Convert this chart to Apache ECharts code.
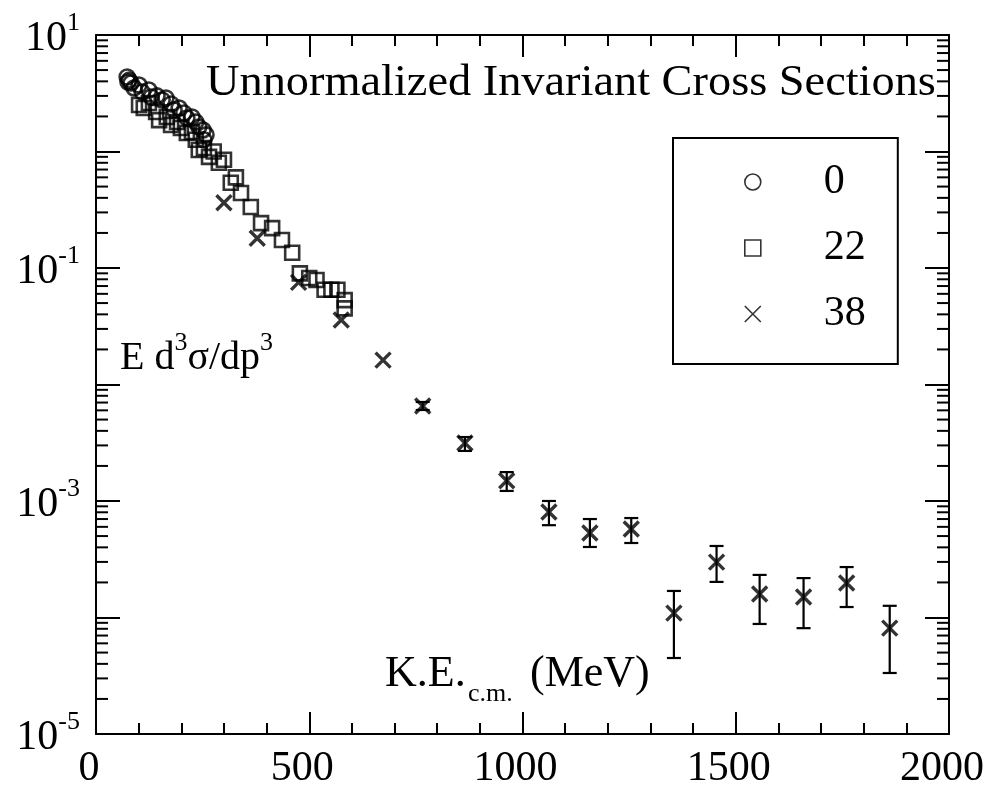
<!DOCTYPE html>
<html><head><meta charset="utf-8">
<script src="https://cdn.jsdelivr.net/npm/echarts@6/dist/echarts.min.js"></script>
<style>html,body{margin:0;padding:0;background:#fff}#c{width:990px;height:794px}</style>
</head><body><div id="c"></div>
<script>
// ---- data (K.E. c.m. in MeV, invariant cross section, arbitrary units) ----
const ke0  = [73, 75, 78, 82, 89, 101, 108, 124, 129, 143, 155, 164, 176, 183, 195, 206, 213, 225, 234, 241, 251, 258, 253];
const sig0 = [4.36, 3.95, 4.1, 3.87, 3.51, 3.72, 3.24, 3.37, 2.94, 3.0, 2.77, 2.88, 2.56, 2.27, 2.36, 2.14, 1.94, 1.98, 1.79, 1.62, 1.53, 1.39, 1.26];

const ke22  = [101, 112, 124, 141, 148, 166, 176, 190, 199, 213, 225, 234, 241, 253, 265, 276, 288, 300, 316, 328, 340, 363, 387, 413, 436, 460, 478, 500, 517, 536, 552, 566, 583, 583];
const sig22 = [2.51, 2.36, 2.61, 2.18, 1.86, 1.98, 1.69, 1.79, 1.59, 1.44, 1.47, 1.26, 1.03, 1.07, 0.90, 1.0, 0.80, 0.85, 0.54, 0.60, 0.44, 0.334, 0.243, 0.22, 0.174, 0.135, 0.090, 0.082, 0.079, 0.065, 0.065, 0.065, 0.053, 0.045];

const ke38  = [300, 378, 475, 575, 673, 766, 865, 963, 1062, 1158, 1255, 1355, 1455, 1556, 1659, 1760, 1861];
const sig38 = [0.363, 0.18, 0.0752, 0.0358, 0.0162, 0.00653, 0.00315, 0.00149, 8.05e-4, 5.31e-4, 5.75e-4, 1.09e-4, 2.99e-4, 1.59e-4, 1.50e-4, 1.98e-4, 8.1e-5];
const lo38  = [0.363, 0.18, 0.0752, 0.0358, 0.0162, 0.00604, 0.00269, 0.00122, 6.2e-4, 4.03e-4, 4.36e-4, 4.49e-5, 2.02e-4, 8.8e-5, 8.1e-5, 1.23e-4, 3.34e-5];
const hi38  = [0.363, 0.18, 0.0752, 0.0358, 0.0162, 0.00708, 0.00354, 0.00177, 1.0e-3, 7.0e-4, 7.14e-4, 1.69e-4, 4.11e-4, 2.32e-4, 2.18e-4, 2.71e-4, 1.26e-4];

const seriesNames = ['0', '22', '38'];
const xTickLabels = ['0', '500', '1000', '1500', '2000'];
const yLabelExps = [1, -1, -3, -5];

const X_MIN = 0, X_MAX = 2000, Y_MIN = 1e-5, Y_MAX = 10;
const yMinor = [];
for (let k = -5; k <= 0; k++) for (let m = 2; m <= 9; m++) yMinor.push(m * Math.pow(10, k));

const FONT = 'Liberation Serif';
const chart = echarts.init(document.getElementById('c'), null, {renderer: 'canvas'});
const zip = (a, b) => a.map((v, i) => [v, b[i]]);
const crossPath = 'path://M0,0L10,10M10,0L0,10';

const xAxisBase = {
  type: 'value', min: X_MIN, max: X_MAX, interval: 500,
  axisLine: {show: true, onZero: false, lineStyle: {color: '#000', width: 2}},
  axisTick: {show: true, inside: true, length: 22, lineStyle: {color: '#000', width: 2}},
  minorTick: {show: true, splitNumber: 5, length: 11, lineStyle: {color: '#000', width: 2}},
  splitLine: {show: false}
};
const yAxisBase = {
  type: 'log', logBase: 10, min: Y_MIN, max: Y_MAX, interval: 1,
  axisLine: {show: true, onZero: false, lineStyle: {color: '#000', width: 2}},
  axisTick: {show: true, inside: true, length: 24, lineStyle: {color: '#000', width: 2}},
  splitLine: {show: false}
};

chart.setOption({
  backgroundColor: '#fff',
  animation: false,
  grid: {left: 96, right: 41, top: 35, bottom: 60, containLabel: false, outerBoundsMode: 'none'},
  xAxis: [
    Object.assign({}, xAxisBase, {position: 'bottom',
      axisLabel: {show: true, margin: 14, fontFamily: FONT, fontSize: 42, color: '#000', lineHeight: 42,
        padding: [0, 14, 0, 0],
        formatter: v => xTickLabels[xTickLabels.indexOf(String(v))] || ''}}),
    Object.assign({}, xAxisBase, {position: 'top', axisLabel: {show: false}})
  ],
  yAxis: [
    Object.assign({}, yAxisBase, {position: 'left',
      axisLabel: {show: true, margin: 16, color: '#000', fontFamily: FONT,
        formatter: v => {
          const e = Math.round(Math.log10(v));
          return yLabelExps.indexOf(e) >= 0 ? '{b|10}{s|' + e + '}' : '';
        },
        rich: {
          b: {fontFamily: FONT, fontSize: 42, lineHeight: 50, verticalAlign: 'bottom', color: '#000'},
          s: {fontFamily: FONT, fontSize: 26, lineHeight: 26, verticalAlign: 'top', color: '#000'}
        }}}),
    Object.assign({}, yAxisBase, {position: 'right', axisLabel: {show: false}})
  ],
  legend: {
    show: true, orient: 'vertical', left: 673, top: 138,
    padding: [23, 32, 29, 71], itemGap: 24, itemWidth: 16, itemHeight: 16,
    borderColor: '#000', borderWidth: 2, backgroundColor: '#fff',
    textStyle: {fontFamily: FONT, fontSize: 42, lineHeight: 42, color: '#000', padding: [0, 0, 0, 58]},
    itemStyle: {borderWidth: 1.6},
    data: [{name: '0', icon: 'circle'}, {name: '22', icon: 'rect'}, {name: '38', icon: crossPath}]
  },
  graphic: [
    {type: 'text', left: 206, top: 61, scaleX: 1.03, silent: true,
      style: {text: 'Unnormalized Invariant Cross Sections', fontFamily: FONT, fontSize: 45, fill: '#000'}},
    {type: 'text', left: 120, top: 330, silent: true,
      style: {text: '{b|E d}{s|3}{b|σ/dp}{s|3}', fill: '#000',
        rich: {b: {fontFamily: FONT, fontSize: 40, lineHeight: 48, verticalAlign: 'bottom'},
               s: {fontFamily: FONT, fontSize: 26, lineHeight: 26, verticalAlign: 'top'}}}},
    {type: 'text', left: 385, top: 652, silent: true,
      style: {text: 'K.E.', fontFamily: FONT, fontSize: 44, lineHeight: 44, fill: '#000'}},
    {type: 'text', left: 468, top: 681, silent: true,
      style: {text: 'c.m.', fontFamily: FONT, fontSize: 26, lineHeight: 26, fill: '#000'}},
    {type: 'text', left: 530, top: 652, silent: true,
      style: {text: '(MeV)', fontFamily: FONT, fontSize: 44, lineHeight: 44, fill: '#000'}}
  ],
  series: [
    {name: seriesNames[0], type: 'scatter', symbol: 'circle', symbolSize: 15,
      itemStyle: {color: 'rgba(0,0,0,0)', borderColor: '#000', borderWidth: 2.6},
      data: zip(ke0, sig0), z: 3},
    {name: seriesNames[1], type: 'scatter', symbol: 'rect', symbolSize: 14,
      itemStyle: {color: 'rgba(0,0,0,0)', borderColor: '#000', borderWidth: 2.6},
      data: zip(ke22, sig22), z: 3},
    {name: seriesNames[2], type: 'scatter', symbol: crossPath, symbolSize: 15,
      itemStyle: {color: 'rgba(0,0,0,0)', borderColor: '#000', borderWidth: 3.4},
      data: zip(ke38, sig38), z: 4},
    {name: 'err38', type: 'custom', z: 4, silent: true,
      data: ke38.map((x, i) => [x, lo38[i], hi38[i]]),
      encode: {x: 0, y: [1, 2]},
      renderItem: (params, api) => {
        const x = api.value(0), lo = api.value(1), hi = api.value(2);
        if (lo === hi) return null;
        const pL = api.coord([x, lo]), pH = api.coord([x, hi]);
        const w = 7, st = {stroke: '#000', lineWidth: 2.2};
        return {type: 'group', children: [
          {type: 'line', shape: {x1: pL[0], y1: pL[1], x2: pH[0], y2: pH[1]}, style: st},
          {type: 'line', shape: {x1: pL[0] - w, y1: pL[1], x2: pL[0] + w, y2: pL[1]}, style: st},
          {type: 'line', shape: {x1: pH[0] - w, y1: pH[1], x2: pH[0] + w, y2: pH[1]}, style: st}
        ]};
      }},
    {name: 'yminor', type: 'custom', silent: true, clip: false, z: 2,
      data: yMinor.map(v => [X_MIN, v]),
      renderItem: (params, api) => {
        const v = api.value(1);
        const pL = api.coord([X_MIN, v]), pR = api.coord([X_MAX, v]);
        const st = {stroke: '#000', lineWidth: 2}, len = 12;
        return {type: 'group', children: [
          {type: 'line', shape: {x1: pL[0], y1: pL[1], x2: pL[0] + len, y2: pL[1]}, style: st},
          {type: 'line', shape: {x1: pR[0], y1: pR[1], x2: pR[0] - len, y2: pR[1]}, style: st}
        ]};
      }}
  ]
});
</script></body></html>
